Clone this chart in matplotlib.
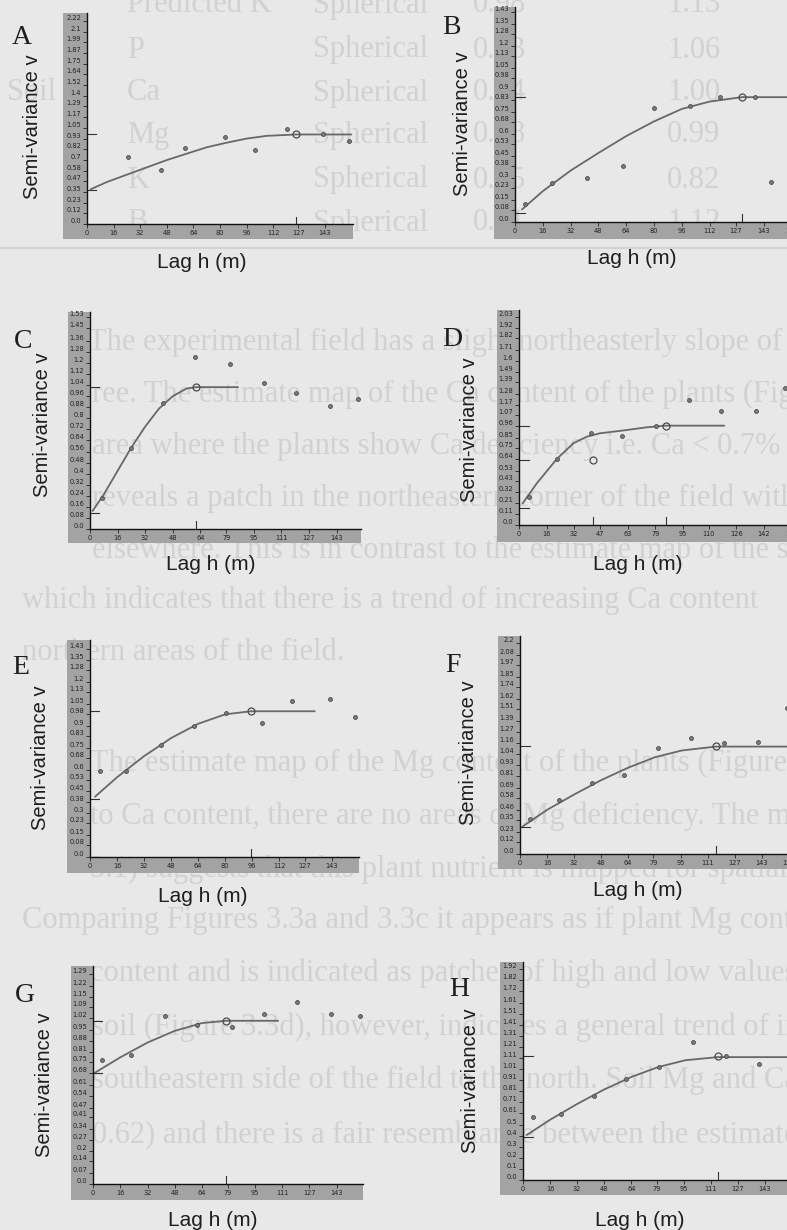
import matplotlib.pyplot as plt
from matplotlib.patches import Rectangle

W, H = 787, 1230
PAGE = '#e8e8e8'
FADED = '#d1d1d1'
BAND = '#a3a3a3'
INK = '#686868'

# ---------------- data ----------------
# experimental semivariances (lag in m, semi-variance)
A_lag = [24.4, 44.3, 59.1, 83.3, 101.2, 120.0, 142.0, 157.7]
A_gam = [0.73, 0.586, 0.835, 0.95, 0.81, 1.036, 0.98, 0.905]
B_lag = [5.9, 21.1, 41.6, 62.0, 80.0, 100.7, 118.0, 138.2, 147.4]
B_gam = [0.125, 0.268, 0.297, 0.381, 0.776, 0.79, 0.853, 0.853, 0.27]
C_lag = [6.8, 23.6, 42.5, 61.0, 81.2, 101.0, 119.4, 139.3, 155.5]
C_gam = [0.222, 0.583, 0.913, 1.245, 1.192, 1.053, 0.98, 0.889, 0.937]
D_lag = [5.6, 21.9, 41.7, 60.0, 79.4, 98.7, 117.0, 137.2, 154.0]
D_gam = [0.276, 0.643, 0.9, 0.867, 0.968, 1.218, 1.111, 1.114, 1.338]
E_lag = [6.0, 21.3, 41.8, 61.5, 80.5, 101.8, 119.4, 142.2, 157.0]
E_gam = [0.588, 0.588, 0.771, 0.897, 0.986, 0.922, 1.073, 1.082, 0.959]
F_lag = [5.9, 22.9, 42.4, 61.5, 81.5, 101.2, 120.9, 141.0, 157.8]
F_gam = [0.362, 0.563, 0.737, 0.824, 1.109, 1.206, 1.154, 1.165, 1.52]
G_lag = [5.5, 22.3, 42.1, 60.9, 81.4, 100.5, 119.9, 139.7, 156.7]
G_gam = [0.763, 0.793, 1.033, 0.978, 0.964, 1.045, 1.117, 1.043, 1.033]
H_lag = [5.7, 22.3, 42.0, 60.7, 80.6, 100.3, 120.0, 139.6]
H_gam = [0.571, 0.60, 0.766, 0.921, 1.027, 1.255, 1.13, 1.057]

# fitted model curves, vertices
A_fit_h = [2.2, 12, 24, 36, 48, 60, 72, 84, 96, 108, 125.6, 159]
A_fit_g = [0.38, 0.46, 0.54, 0.62, 0.70, 0.77, 0.84, 0.89, 0.935, 0.965, 0.98, 0.98]
B_fit_h = [4, 16, 32, 48, 64, 80, 96, 112, 130.5, 170]
B_fit_g = [0.085, 0.21, 0.35, 0.47, 0.585, 0.685, 0.77, 0.82, 0.85, 0.85]
C_fit_h = [1.5, 8, 16, 24, 32, 40, 48, 56, 61.6, 85.8]
C_fit_g = [0.13, 0.25, 0.42, 0.59, 0.74, 0.87, 0.96, 1.015, 1.025, 1.025]
D_fit_h = [2.1, 10.3, 21.9, 31.5, 39.2, 47, 60, 74, 85, 119]
D_fit_g = [0.21, 0.406, 0.643, 0.796, 0.86, 0.894, 0.92, 0.952, 0.968, 0.968]
E_fit_h = [3, 16, 32, 48, 64, 80, 95.3, 133]
E_fit_g = [0.414, 0.547, 0.692, 0.816, 0.914, 0.979, 1.0, 1.0]
F_fit_h = [1.4, 16, 32, 48, 64, 80, 96, 116, 170]
F_fit_g = [0.285, 0.46, 0.62, 0.77, 0.90, 1.01, 1.08, 1.12, 1.12]
G_fit_h = [1.2, 16, 32, 48, 64, 78, 108.7]
G_fit_g = [0.685, 0.779, 0.87, 0.942, 0.99, 1.004, 1.004]
H_fit_h = [2.2, 16, 32, 48, 64, 80, 96, 115, 170]
H_fit_g = [0.41, 0.549, 0.693, 0.825, 0.939, 1.03, 1.092, 1.12, 1.12]

# nugget levels and highlighted (open circle) points
nuggets = [0.37, 0.06, 0.113, 0.169, 0.40, 0.285, 0.685, 0.395]
ring_h = [[125.6], [130.5], [61.6], [42.9, 85.0], [95.3], [115.9], [78.1], [115.0]]
ring_g = [[0.98], [0.85], [1.025], [0.63, 0.968], [1.0], [1.13], [1.004], [1.133]]

# tick labels as printed
yt_A = ['0.0', '0.12', '0.23', '0.35', '0.47', '0.58', '0.7', '0.82', '0.93', '1.05',
        '1.17', '1.29', '1.4', '1.52', '1.64', '1.75', '1.87', '1.99', '2.1', '2.22']
yt_B = ['0.0', '0.08', '0.15', '0.23', '0.3', '0.38', '0.45', '0.53', '0.6', '0.68',
        '0.75', '0.83', '0.9', '0.98', '1.05', '1.13', '1.2', '1.28', '1.35', '1.43']
yt_C = ['0.0', '0.08', '0.16', '0.24', '0.32', '0.4', '0.48', '0.56', '0.64', '0.72',
        '0.8', '0.88', '0.96', '1.04', '1.12', '1.2', '1.28', '1.36', '1.45', '1.53']
yt_D = ['0.0', '0.11', '0.21', '0.32', '0.43', '0.53', '0.64', '0.75', '0.85', '0.96',
        '1.07', '1.17', '1.28', '1.39', '1.49', '1.6', '1.71', '1.82', '1.92', '2.03']
yt_E = yt_B
yt_F = ['0.0', '0.12', '0.23', '0.35', '0.46', '0.58', '0.69', '0.81', '0.93', '1.04',
        '1.16', '1.27', '1.39', '1.51', '1.62', '1.74', '1.85', '1.97', '2.08', '2.2']
yt_G = ['0.0', '0.07', '0.14', '0.2', '0.27', '0.34', '0.41', '0.47', '0.54', '0.61',
        '0.68', '0.75', '0.81', '0.88', '0.95', '1.02', '1.09', '1.15', '1.22', '1.29']
yt_H = ['0.0', '0.1', '0.2', '0.3', '0.4', '0.5', '0.61', '0.71', '0.81', '0.91',
        '1.01', '1.11', '1.21', '1.31', '1.41', '1.51', '1.61', '1.72', '1.82', '1.92']

xt_a = ['0', '16', '32', '48', '64', '80', '96', '112', '127', '143']
xt_b = ['0', '16', '32', '48', '64', '80', '96', '112', '127', '143', '159']
xt_c = ['0', '16', '32', '48', '64', '79', '95', '111', '127', '143']
xt_d = ['0', '16', '32', '47', '63', '79', '95', '110', '126', '142', '158']
xt_f = ['0', '16', '32', '48', '64', '79', '95', '111', '127', '143', '159']

# faded table and body text of the underlying page
tab_name = ['Predicted K', 'P', 'Ca', 'Mg', 'K', 'B']
tab_model = ['Spherical'] * 6
tab_v1 = ['0.98', '0.93', '0.94', '0.88', '0.75', '0.91']
tab_v2 = ['1.13', '1.06', '1.00', '0.99', '0.82', '1.12']
body = [
    "The experimental field has a slight northeasterly slope of about",
    "ree. The estimate map of the Ca content of the plants (Figure",
    "area where the plants show Ca deficiency i.e. Ca < 0.7% in the",
    "reveals a patch in the northeastern corner of the field with",
    "elsewhere. This is in contrast to the estimate map of the soil",
    "which indicates that there is a trend of increasing Ca content",
    "northern areas of the field.",
    "The estimate map of the Mg content of the plants (Figure 3.3c)",
    "to Ca content, there are no areas of Mg deficiency. The map",
    "3.1) suggests that this plant nutrient is mapped for spatial",
    "Comparing Figures 3.3a and 3.3c it appears as if plant Mg content",
    "content and is indicated as patches of high and low values across",
    "soil (Figure 3.3d), however, indicates a general trend of increasing",
    "southeastern side of the field to the north. Soil Mg and Ca",
    "0.62) and there is a fair resemblance between the estimate maps",
]

# ---------------- layout (pixels on the page) ----------------
body_x = [88, 92, 92, 92, 92, 22, 22, 90, 90, 90, 22, 90, 92, 92, 92]
body_y = [342, 394, 446, 498, 550, 600, 653, 763, 816, 869, 920, 973, 1027, 1080, 1135]
tab_y = [5, 50, 93, 135, 180, 223]

# band_left, axis_x, top, axis_y, band_bottom, right
frames = [(63, 87, 13, 224, 239, 353), (494, 515, 7, 222, 239, 800),
          (68, 90, 312, 529, 543, 361), (497, 519, 310, 525, 542, 800),
          (67, 90, 640, 857, 873, 359), (498, 520, 636, 854, 869, 800),
          (71, 93, 966, 1184, 1200, 363), (500, 523, 962, 1180, 1195, 800)]
limits = [(160, 2.31), (164, 1.464), (157.1, 1.568), (162.9, 2.095),
          (159.2, 1.489), (165.7, 2.273), (158.5, 1.341), (163.7, 1.987)]
letter_xy = [(22, 37), (451, 28), (23, 341), (452, 339), (21, 668), (453, 665), (25, 996), (459, 989)]
ylab_xy = [(33, 127), (463, 124), (43, 425), (470, 430), (41, 758), (469, 753), (44, 1085), (471, 1081)]
xlab_xy = [(202, 262), (632, 259), (211, 564), (638, 565), (203, 896), (638, 891), (213, 1221), (640, 1221)]

letters = ['A', 'B', 'C', 'D', 'E', 'F', 'G', 'H']
lags = [A_lag, B_lag, C_lag, D_lag, E_lag, F_lag, G_lag, H_lag]
gams = [A_gam, B_gam, C_gam, D_gam, E_gam, F_gam, G_gam, H_gam]
fit_h = [A_fit_h, B_fit_h, C_fit_h, D_fit_h, E_fit_h, F_fit_h, G_fit_h, H_fit_h]
fit_g = [A_fit_g, B_fit_g, C_fit_g, D_fit_g, E_fit_g, F_fit_g, G_fit_g, H_fit_g]
yts = [yt_A, yt_B, yt_C, yt_D, yt_E, yt_F, yt_G, yt_H]
xts = [xt_a, xt_b, xt_c, xt_d, xt_a, xt_f, xt_c, xt_f]


def px(x, y):
    return x / W, 1 - y / H


fig = plt.figure(figsize=(W / 100, H / 100), dpi=100)
fig.patch.set_facecolor(PAGE)

serif = 'Liberation Serif'
sans = 'Liberation Sans'
narrow = ['Liberation Sans Narrow', 'DejaVu Sans']

# faded page behind the panels
for i in range(len(tab_name)):
    for x, s in [(127, tab_name[i]), (313, tab_model[i]), (473, tab_v1[i]), (667, tab_v2[i])]:
        fig.text(*px(x, tab_y[i]), s, family=serif, fontsize=22, color=FADED,
                 va='center', zorder=-2)
fig.text(*px(7, 93), 'Soil', family=serif, fontsize=22, color=FADED, va='center', zorder=-2)
fig.add_artist(plt.Line2D([0, 1], [1 - 248 / H] * 2, color='#d2d2d2', lw=1.4, zorder=-2))
for x, y, s in zip(body_x, body_y, body):
    fig.text(*px(x, y), s, family=serif, fontsize=22, color=FADED, va='center', zorder=-2)

for k in range(8):
    bl, ax_x, top, ax_y, bb, right = frames[k]
    # grey strips behind the tick labels
    for x0, y0, x1, y1 in [(bl, top, ax_x, bb), (bl, ax_y, right, bb)]:
        fig.add_artist(Rectangle(px(x0, y1), (x1 - x0) / W, (y1 - y0) / H,
                                 transform=fig.transFigure, facecolor=BAND,
                                 edgecolor='none', zorder=-1))
    ax = fig.add_axes([ax_x / W, 1 - ax_y / H, (right - ax_x) / W, (ax_y - top) / H])
    ax.set_facecolor('none')
    ax.set_xlim(0, limits[k][0])
    ax.set_ylim(0, limits[k][1])
    for s in ['top', 'right']:
        ax.spines[s].set_visible(False)
    for s in ['left', 'bottom']:
        ax.spines[s].set_color('#111111')
        ax.spines[s].set_linewidth(1.0)

    ax.set_yticks([float(t) for t in yts[k]], yts[k])
    ax.set_xticks([float(t) for t in xts[k]], xts[k])
    ax.tick_params(direction='out', length=3, width=0.6, colors='#222222',
                   labelsize=4.8, pad=1.2)
    for t in ax.get_yticklabels() + ax.get_xticklabels():
        t.set_family(narrow)
    for t in ax.get_yticklabels():
        t.set_verticalalignment('bottom')

    ax.plot(fit_h[k], fit_g[k], color=INK, lw=1.3, solid_capstyle='round')
    ax.plot(lags[k], gams[k], 'o', ms=2.8, mfc='#7a7a7a', mec='#4a4a4a', mew=0.6,
            clip_on=False)
    ax.plot(ring_h[k], ring_g[k], 'o', ms=5, mfc='none', mec='#4a4a4a', mew=0.9)

    # small marks on the axes for nugget, sill and range
    for g in [nuggets[k]] + ring_g[k]:
        ax.plot([0, 0.035], [g, g], transform=ax.get_yaxis_transform(),
                color='#333333', lw=0.8, clip_on=False)
    for h in ring_h[k]:
        ax.plot([h, h], [0, 0.035], transform=ax.get_xaxis_transform(),
                color='#333333', lw=0.8, clip_on=False)

    fig.text(*px(*letter_xy[k]), letters[k], family=serif, fontsize=20,
             color='#1e1e1e', ha='center', va='center')
    fig.text(*px(*ylab_xy[k]), 'Semi-variance v', family=sans, fontsize=14.5,
             color='#1e1e1e', ha='center', va='center', rotation=90)
    fig.text(*px(*xlab_xy[k]), 'Lag h (m)', family=sans, fontsize=15,
             color='#1e1e1e', ha='center', va='center')

fig.savefig('out.png', dpi=100, facecolor=PAGE)
